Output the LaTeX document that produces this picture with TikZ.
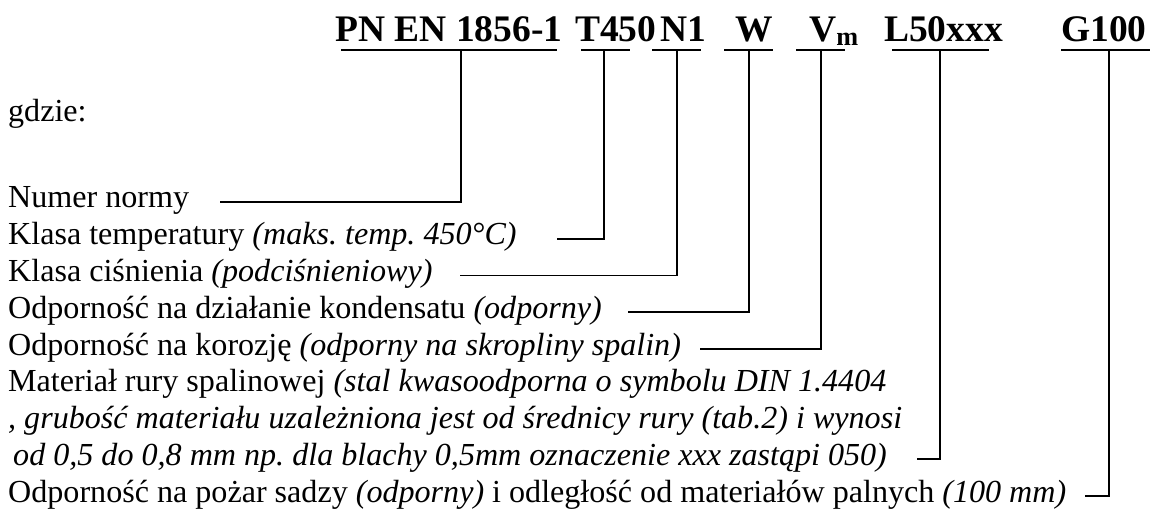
\documentclass[tikz,border=0pt]{standalone}
\usepackage{fontspec}
\setmainfont{Liberation Serif}
\frenchspacing
\begin{document}
\tikzset{
  body/.style={anchor=base west, inner sep=0pt, font=\fontsize{32.1}{36}\selectfont},
  head/.style={anchor=base west, inner sep=0pt, font=\fontsize{37.5}{40}\selectfont\bfseries},
  ln/.style={line width=1.6pt},
}
\begin{tikzpicture}[x=1pt,y=-1pt]
\useasboundingbox (0,0) rectangle (1150,510);
% header
\node[head] (pn) at (335,42) {PN EN 1856-1};
\node[head] (t)  at (575,42) {T450};
\node[head] (n)  at (660,42) {N1};
\node[head] (w)  at (735,42) {W};
\node[head] (v)  at (809,42) {V\textsubscript{m}};
\node[head] (l)  at (884,42) {L50xxx};
\node[head] (g)  at (1061,42) {G100};
% underlines
\coordinate (pnA) at (341,50); \coordinate (pnB) at (557,50); \coordinate (pnV) at (461,50);
\coordinate (tA) at (581,50);  \coordinate (tB) at (630,50);  \coordinate (tV) at (604,50);
\coordinate (nA) at (652,50);  \coordinate (nB) at (701,50);  \coordinate (nV) at (677,50);
\coordinate (wA) at (724,50);  \coordinate (wB) at (773,50);  \coordinate (wV) at (749,50);
\coordinate (vA) at (796,50);  \coordinate (vB) at (845,50);  \coordinate (vV) at (821,50);
\coordinate (lA) at (892,50);  \coordinate (lB) at (989,50);  \coordinate (lV) at (940,50);
\coordinate (gA) at (1061,50); \coordinate (gB) at (1150,50); \coordinate (gV) at (1109,50);
\foreach \c in {pn,t,n,w,v,l,g} { \draw[ln] (\c A) -- (\c B); }
% body
\node[body] (gdz) at (8,122) {gdzie:};
\node[body] (r1) at (8,208) {Numer normy};
\node[body] (r2) at (8,244.75) {Klasa temperatury \textit{(maks. temp. 450°C)}};
\node[body] (r3) at (8,281.5) {Klasa ciśnienia \textit{(podciśnieniowy)}};
\node[body] (r4) at (8,318.25) {Odporność na działanie kondensatu \textit{(odporny)}};
\node[body] (r5) at (8,355) {Odporność na korozję \textit{(odporny na skropliny spalin)}};
\node[body] (r6) at (8,391.75) {Materiał rury spalinowej \textit{(stal kwasoodporna o symbolu DIN 1.4404}};
\node[body] (r7) at (8,428.5) {\textit{, grubość materiału uzależniona jest od średnicy rury (tab.2) i wynosi}};
\node[body] (r8) at (13,465.25) {\textit{od 0,5 do 0,8 mm np. dla blachy 0,5mm oznaczenie xxx zastąpi 050)}};
\node[body] (r9) at (8,502) {Odporność na pożar sadzy \textit{(odporny)} i odległość od materiałów palnych \textit{(100 mm)}};
% line starts
\coordinate (s1) at (220,202);
\coordinate (s2) at (557,238.75);
\coordinate (s3) at (460,275.5);
\coordinate (s4) at (628,312.25);
\coordinate (s5) at (700,349);
\coordinate (s8) at (917,459.25);
\coordinate (s9) at (1085,496);
% connectors
\draw[ln] (pnV) |- (s1);
\draw[ln] (tV) |- (s2);
\draw[ln] (nV) |- (s3);
\draw[ln] (wV) |- (s4);
\draw[ln] (vV) |- (s5);
\draw[ln] (lV) |- (s8);
\draw[ln] (gV) |- (s9);
\end{tikzpicture}
\end{document}
